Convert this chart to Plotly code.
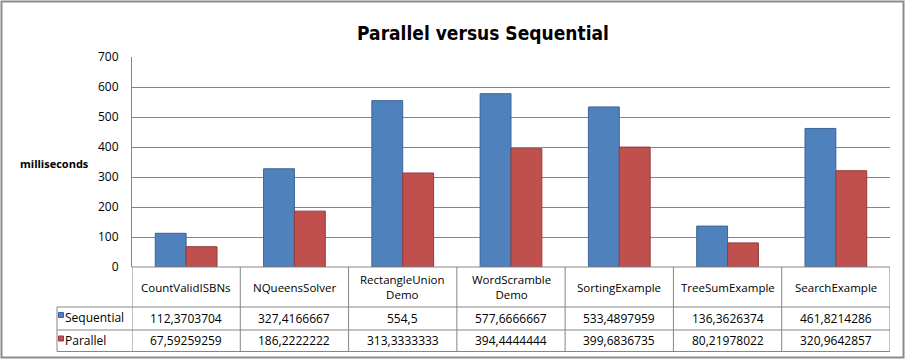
import plotly.graph_objects as go

categories = ["CountValidISBNs", "NQueensSolver", "RectangleUnion Demo", "WordScramble Demo",
              "SortingExample", "TreeSumExample", "SearchExample"]
sequential = [112.3703704, 327.4166667, 554.5, 577.6666667, 533.4897959, 136.3626374, 461.8214286]
parallel = [67.59259259, 186.2222222, 313.3333333, 394.4444444, 399.6836735, 80.21978022, 320.9642857]
series_names = ["Sequential", "Parallel"]
y_ticks = [0, 100, 200, 300, 400, 500, 600, 700]

BLUE = "#4F81BD"
RED = "#C0504D"
GRID = "#868686"
FONT = "Open Sans, Liberation Sans, sans-serif"
TITLE_FONT = "Liberation Sans Narrow, DejaVu Sans Condensed, Liberation Sans, sans-serif"


def fmt(v):
    return f"{v:.10g}".replace(".", ",")


fig = go.Figure()
fig.add_trace(go.Bar(x=categories, y=sequential, name=series_names[0],
                     marker=dict(color=BLUE, line=dict(color="#3B6496", width=1))))
fig.add_trace(go.Bar(x=categories, y=parallel, name=series_names[1],
                     marker=dict(color=RED, line=dict(color="#933C3A", width=1))))

# table geometry in paper coords (plot area: y 0 -> px 267, y 1 -> px 57)
H = 210.0
def py(px):
    return (267 - px) / H

W = 758.0
def px_x(px):
    return (px - 132) / W

y_head_bot = py(307)
y_seq_bot = py(330)
y_par_bot = py(351.5)
x_left = px_x(57)

shapes = []
line = dict(color=GRID, width=1)
# horizontal table lines
shapes.append(dict(type="line", xref="paper", yref="paper", x0=0, x1=1, y0=0, y1=0, line=line))
for yy in (y_head_bot, y_seq_bot, y_par_bot):
    shapes.append(dict(type="line", xref="paper", yref="paper", x0=x_left, x1=1, y0=yy, y1=yy, line=line))
# vertical table lines
shapes.append(dict(type="line", xref="paper", yref="paper", x0=x_left, x1=x_left, y0=y_head_bot, y1=y_par_bot, line=line))
for i in range(len(categories) + 1):
    shapes.append(dict(type="line", xref="x", yref="paper", x0=i - 0.5, x1=i - 0.5, y0=0, y1=y_par_bot, line=line))
# outer chart border
shapes.append(dict(type="rect", xref="paper", yref="paper", x0=px_x(1.5), x1=px_x(903.5),
                   y0=py(357.5), y1=py(1.5), line=dict(color="#8C8C8C", width=2)))
# legend keys
for yc, col, edge in ((py(315), BLUE, "#3B6496"), (py(338.5), RED, "#933C3A")):
    shapes.append(dict(type="rect", xref="paper", yref="paper", x0=px_x(58.5), x1=px_x(63.5),
                       y0=yc - 2.5 / H, y1=yc + 2.5 / H, fillcolor=col, line=dict(color=edge, width=1)))

annotations = []
tfont = dict(family=FONT, size=12, color="#000000")
hfont = dict(family=FONT, size=11.5, color="#000000")
for c, s, p in zip(categories, sequential, parallel):
    annotations.append(dict(x=c, y=py(287), xref="x", yref="paper", text=c.replace(" ", "<br>"),
                            showarrow=False, font=hfont, yanchor="middle", xanchor="center"))
    annotations.append(dict(x=c, y=py(318.5), xref="x", yref="paper", text=fmt(s),
                            showarrow=False, font=tfont, yanchor="middle", xanchor="center"))
    annotations.append(dict(x=c, y=py(340.5), xref="x", yref="paper", text=fmt(p),
                            showarrow=False, font=tfont, yanchor="middle", xanchor="center"))
for name, yy in zip(series_names, (py(317.5), py(340))):
    annotations.append(dict(x=px_x(63), y=yy, xref="paper", yref="paper", text=name,
                            showarrow=False, font=tfont, xanchor="left", yanchor="middle"))
annotations.append(dict(x=px_x(54), y=py(163), xref="paper", yref="paper", text="<b>milliseconds</b>",
                        showarrow=False, font=dict(family=FONT, size=11, color="#000000"),
                        xanchor="center", yanchor="middle"))

fig.update_layout(
    width=906, height=361,
    margin=dict(l=132, r=16, t=57, b=94),
    paper_bgcolor="white", plot_bgcolor="white",
    title=dict(text="<b>Parallel versus Sequential</b>", x=483 / 906,
               xanchor="center", y=1 - 33 / 361, yanchor="middle",
               font=dict(family=TITLE_FONT, size=19, color="#000000")),
    showlegend=False,
    barmode="group", bargap=0.43, bargroupgap=0,
    xaxis=dict(range=[-0.5, len(categories) - 0.5], showticklabels=False, showgrid=False,
               zeroline=False, showline=False, fixedrange=True),
    yaxis=dict(range=[0, 700], tickvals=y_ticks, showgrid=True, gridcolor=GRID, gridwidth=1,
               showline=True, linecolor=GRID, linewidth=1, zeroline=False, ticks="",
               ticklabelstandoff=10, tickfont=dict(family=FONT, size=12, color="#000000")),
    shapes=shapes, annotations=annotations,
)

fig.write_html("out.html", config={"displayModeBar": False},
               post_script="document.body.style.margin='0';document.body.style.overflow='hidden';")
